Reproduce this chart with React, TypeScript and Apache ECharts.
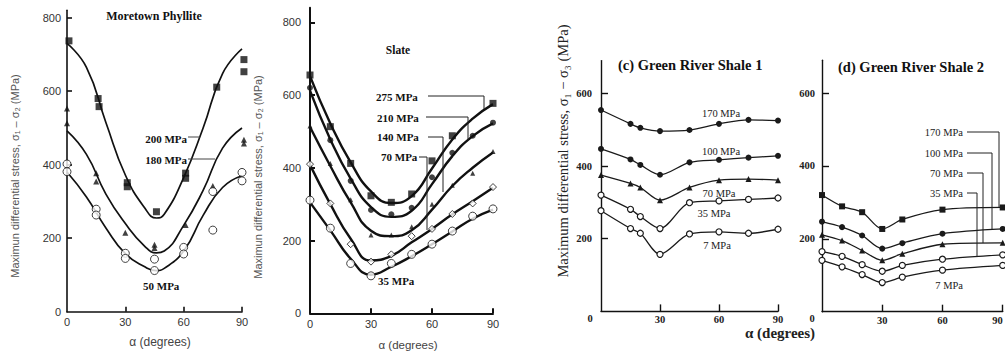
import React, { useEffect, useRef } from "react";
import * as echarts from "echarts";

// ---------- Panel 1: Moretown Phyllite ----------
const P1_CURVE_ALPHA = [0, 10, 20, 30, 40, 46, 50, 60, 70, 80, 90];
const P1_CURVE_200 = [730, 665, 515, 372, 282, 255, 265, 365, 500, 648, 715];
const P1_CURVE_180 = [492, 428, 320, 240, 178, 160, 165, 235, 330, 445, 500];
const P1_CURVE_50 = [380, 312, 228, 158, 122, 112, 118, 165, 262, 338, 370];
const P1_SQUARES = [[1, 737], [16, 580], [16.5, 558], [31, 351], [31, 340], [46, 272], [61, 377], [61, 363], [77, 611], [91, 686], [91, 653]];
const P1_TRIANGLES = [[0, 553], [0, 513], [15, 377], [15, 354], [30, 215], [45, 182], [45, 173], [61, 236], [75, 342], [91, 468], [91, 458]];
const P1_CIRCLES = [[0, 402], [0, 381], [15, 279], [15, 263], [30, 159], [30, 145], [45, 143], [45, 112], [60, 175], [60, 157], [75, 327], [75, 222], [90, 379], [90, 356]];

// ---------- Panel 2: Slate ----------
const P2_ALPHA = [0, 10, 20, 30, 40, 50, 60, 70, 80, 90];
const P2_CURVE_275 = [652, 522, 415, 335, 303, 322, 398, 478, 535, 575];
const P2_CURVE_210 = [612, 478, 370, 292, 265, 282, 355, 432, 487, 522];
const P2_CURVE_140 = [512, 405, 305, 227, 212, 228, 285, 350, 400, 442];
const P2_CURVE_70 = [408, 300, 205, 145, 158, 195, 232, 272, 308, 345];
const P2_CURVE_35 = [305, 228, 150, 106, 128, 157, 190, 225, 260, 285];
const P2_SQUARE_ALPHA = [0, 10, 20, 30, 40, 50, 60, 70, 90];
const P2_SQUARES = [655, 513, 412, 323, 305, 328, 419, 488, 577];
const P2_DOTS = [620, 476, 364, 284, 272, 290, 374, 441, 488, 524];
const P2_TRIANGLES = [515, 412, 312, 215, 215, 238, 300, 352, 385, 445];
const P2_DIAMONDS = [410, 302, 190, 142, 162, 212, 232, 273, 302, 347];
const P2_CIRCLES = [311, 234, 137, 103, 137, 162, 190, 226, 267, 287];

// ---------- Panel 3: Green River Shale 1 ----------
const P3_ALPHA = [0, 15, 20, 30, 45, 60, 75, 90];
const P3_170 = [554, 516, 505, 496, 499, 516, 527, 525];
const P3_100 = [447, 418, 403, 376, 410, 417, 423, 428];
const P3_70 = [375, 352, 341, 306, 341, 361, 364, 361];
const P3_35 = [320, 281, 261, 228, 299, 304, 308, 312];
const P3_7 = [277, 228, 215, 157, 213, 219, 215, 226];

// ---------- Panel 4: Green River Shale 2 ----------
const P4_ALPHA = [0, 10, 20, 30, 40, 60, 90];
const P4_170 = [320, 289, 273, 227, 253, 280, 286];
const P4_100 = [247, 232, 209, 173, 188, 214, 227];
const P4_70 = [211, 195, 168, 141, 159, 185, 189];
const P4_35 = [165, 152, 129, 111, 127, 144, 156];
const P4_7 = [141, 123, 102, 80, 95, 114, 127];

const X_TICKS = [0, 30, 60, 90];
const Y_TICKS_BIG = [0, 200, 400, 600, 800];
const Y_TICKS_SMALL = [200, 400, 600];

const SANS = "'Liberation Sans', Arial, sans-serif";
const SERIF = "'Liberation Serif', 'Times New Roman', serif";

const zip = (xs: number[], ys: number[]) => xs.map((x, i) => [x, ys[i]]);

function curve(grid: number, xs: number[], ys: number[], width: number) {
  return {
    type: "line",
    xAxisIndex: grid,
    yAxisIndex: grid,
    data: zip(xs, ys),
    smooth: 0.5,
    showSymbol: false,
    symbol: "none",
    clip: false,
    lineStyle: { color: "#111", width },
    z: 2,
  };
}

function marks(grid: number, data: number[][], symbol: string, size: number, open = false) {
  return {
    type: "scatter",
    xAxisIndex: grid,
    yAxisIndex: grid,
    data,
    symbol,
    symbolSize: size,
    clip: false,
    itemStyle: open
      ? { color: "#fff", borderColor: "#111", borderWidth: 1 }
      : { color: "#111", borderColor: "#111", borderWidth: 0 },
    z: 3,
  };
}

function markedLine(grid: number, xs: number[], ys: number[], symbol: string, size: number, open = false) {
  return {
    type: "line",
    xAxisIndex: grid,
    yAxisIndex: grid,
    data: zip(xs, ys),
    smooth: 0.3,
    symbol,
    symbolSize: size,
    showSymbol: true,
    clip: false,
    lineStyle: { color: "#1a1a1a", width: 1.3 },
    itemStyle: open
      ? { color: "#fff", borderColor: "#1a1a1a", borderWidth: 1.2 }
      : { color: "#1a1a1a", borderColor: "#1a1a1a", borderWidth: 0 },
    z: 3,
  };
}

function xAxis(grid: number, labelVals: number[], tickVals: number[], font: any, lineW: number, tickLen: number, margin: number, extra: any = {}) {
  return {
    type: "value",
    gridIndex: grid,
    min: 0,
    max: 90,
    interval: 30,
    splitLine: { show: false },
    axisLine: { show: true, onZero: false, lineStyle: { color: "#111", width: lineW } },
    axisTick: { show: true, inside: true, length: tickLen, customValues: tickVals, lineStyle: { color: "#111", width: lineW } },
    axisLabel: { show: true, customValues: labelVals, margin, ...font, ...extra },
  };
}

function yAxis(grid: number, max: number, labelVals: number[], tickVals: number[], font: any, lineW: number, tickLen: number, margin: number) {
  return {
    type: "value",
    gridIndex: grid,
    min: 0,
    max,
    interval: 200,
    splitLine: { show: false },
    axisLine: { show: true, onZero: false, lineStyle: { color: "#111", width: lineW } },
    axisTick: { show: true, inside: true, length: tickLen, customValues: tickVals, lineStyle: { color: "#111", width: lineW } },
    axisLabel: { show: true, customValues: labelVals, margin, ...font },
  };
}

function text(x: number, y: number, t: string, size: number, family: string, opts: any = {}) {
  const align = opts.align || "center";
  const valign = opts.valign || "middle";
  return {
    type: "text",
    x,
    y,
    rotation: opts.rotation || 0,
    z: 10,
    style: {
      text: t,
      fontSize: size,
      fontFamily: family,
      fontWeight: opts.bold ? "bold" : "normal",
      fill: opts.color || "#111",
      align,
      textAlign: align,
      verticalAlign: valign,
      textVerticalAlign: valign,
    },
  };
}

function leader(points: number[][], color = "#222") {
  return {
    type: "polyline",
    z: 9,
    shape: { points },
    style: { stroke: color, lineWidth: 1, fill: null },
  };
}

export default function App() {
  const ref = useRef<HTMLDivElement>(null);

  useEffect(() => {
    if (!ref.current) return;
    const chart = echarts.init(ref.current, undefined, { renderer: "svg" });

    const sansTick = { fontFamily: SANS, fontSize: 11, color: "#333" };
    const serifTick = { fontFamily: SERIF, fontSize: 10.5, color: "#222", fontWeight: "bold" };

    const option: any = {
      animation: false,
      backgroundColor: "#fff",
      grid: [
        { left: 67, top: 10.35, width: 175, height: 301.35, outerBoundsMode: "none", containLabel: false },
        { left: 310, top: 7.7, width: 183, height: 305.6, outerBoundsMode: "none", containLabel: false },
        { left: 601, top: 60.6, width: 177, height: 250.8, outerBoundsMode: "none", containLabel: false },
        { left: 822, top: 60.2, width: 180.7, height: 251.5, outerBoundsMode: "none", containLabel: false },
      ],
      xAxis: [
        xAxis(0, X_TICKS, [30, 60, 90], sansTick, 1.6, 5, 5),
        xAxis(1, X_TICKS, [30, 60, 90], sansTick, 2, 5, 5),
        xAxis(2, [30, 60, 90], [30, 60, 90], serifTick, 1.4, 7, 3),
        xAxis(3, [30, 60, 90], [30, 60, 90], serifTick, 1.4, 7, 3, { alignMaxLabel: "right" }),
      ],
      yAxis: [
        yAxis(0, 820, Y_TICKS_BIG, [200, 400, 600, 800], sansTick, 1.6, 5, 6),
        yAxis(1, 840, Y_TICKS_BIG, [200, 400, 600, 800], sansTick, 2, 5, 9),
        yAxis(2, 690, Y_TICKS_SMALL, Y_TICKS_SMALL, serifTick, 1.4, 7, 9),
        yAxis(3, 690, Y_TICKS_SMALL, Y_TICKS_SMALL, serifTick, 1.4, 7, 7),
      ],
      series: [
        // Panel 1
        curve(0, P1_CURVE_ALPHA, P1_CURVE_200, 1.7),
        curve(0, P1_CURVE_ALPHA, P1_CURVE_180, 1.7),
        curve(0, P1_CURVE_ALPHA, P1_CURVE_50, 1.7),
        marks(0, P1_SQUARES, "rect", 7),
        marks(0, P1_TRIANGLES, "triangle", 6),
        marks(0, P1_CIRCLES, "circle", 8, true),
        // Panel 2
        curve(1, P2_ALPHA, P2_CURVE_275, 2.4),
        curve(1, P2_ALPHA, P2_CURVE_210, 2.4),
        curve(1, P2_ALPHA, P2_CURVE_140, 2.4),
        curve(1, P2_ALPHA, P2_CURVE_70, 2.4),
        curve(1, P2_ALPHA, P2_CURVE_35, 2.4),
        marks(1, zip(P2_SQUARE_ALPHA, P2_SQUARES), "rect", 7),
        marks(1, zip(P2_ALPHA, P2_DOTS), "circle", 6),
        marks(1, zip(P2_ALPHA, P2_TRIANGLES), "triangle", 5),
        marks(1, zip(P2_ALPHA, P2_DIAMONDS), "diamond", 7, true),
        marks(1, zip(P2_ALPHA, P2_CIRCLES), "circle", 8, true),
        // Panel 3
        markedLine(2, P3_ALPHA, P3_170, "circle", 6),
        markedLine(2, P3_ALPHA, P3_100, "circle", 6),
        markedLine(2, P3_ALPHA, P3_70, "triangle", 6),
        markedLine(2, P3_ALPHA, P3_35, "circle", 6, true),
        markedLine(2, P3_ALPHA, P3_7, "circle", 6, true),
        // Panel 4
        markedLine(3, P4_ALPHA, P4_170, "rect", 6),
        markedLine(3, P4_ALPHA, P4_100, "circle", 6),
        markedLine(3, P4_ALPHA, P4_70, "triangle", 6),
        markedLine(3, P4_ALPHA, P4_35, "circle", 6, true),
        markedLine(3, P4_ALPHA, P4_7, "circle", 6, true),
      ],
      graphic: [
        // Panel 1 texts
        text(154, 16, "Moretown Phyllite", 12, SERIF, { bold: true }),
        text(187, 139, "200 MPa", 11, SERIF, { bold: true, align: "right" }),
        text(187, 160, "180 MPa", 11, SERIF, { bold: true, align: "right" }),
        text(143, 286, "50 MPa", 11, SERIF, { bold: true, align: "left" }),
        leader([[188, 137], [200, 137]], "#444"),
        leader([[188, 159], [215, 159]], "#444"),
        text(15, 176, "Maximun differential stress, σ₁ – σ₂ (MPa)", 11, SANS, { rotation: Math.PI / 2, color: "#555" }),
        text(160, 342, "α (degrees)", 12, SANS, { color: "#444" }),
        // Panel 2 texts
        text(398, 50, "Slate", 11.5, SERIF, { bold: true }),
        text(376, 97, "275 MPa", 11, SERIF, { bold: true, align: "left" }),
        text(377, 118, "210 MPa", 11, SERIF, { bold: true, align: "left" }),
        text(377, 137, "140 MPa", 11, SERIF, { bold: true, align: "left" }),
        text(381, 157, "70 MPa", 11, SERIF, { bold: true, align: "left" }),
        text(378, 281, "35 MPa", 11, SERIF, { bold: true, align: "left" }),
        leader([[428, 96], [484, 96], [484, 109]]),
        leader([[426, 117], [468, 117], [468, 140]]),
        leader([[428, 137], [443, 137], [443, 192]]),
        leader([[419, 157], [427, 157], [427, 230]]),
        text(258, 177, "Maximun differential stress, σ₁ – σ₂ (MPa)", 11, SANS, { rotation: Math.PI / 2, color: "#555" }),
        text(408, 345, "α (degrees)", 11.5, SANS, { color: "#444" }),
        // Panel 3 texts
        text(618, 65, "(c) Green River Shale 1", 14.5, SERIF, { bold: true, align: "left" }),
        text(721, 113, "170 MPa", 10.5, SERIF, { color: "#222" }),
        text(721, 151, "100 MPa", 10.5, SERIF, { color: "#222" }),
        text(719, 193, "70 MPa", 10.5, SERIF, { color: "#222" }),
        text(714, 213, "35 MPa", 10.5, SERIF, { color: "#222" }),
        text(717, 245, "7 MPa", 10.5, SERIF, { color: "#222" }),
        text(590, 318, "0", 10.5, SERIF, { bold: true, color: "#222" }),
        text(563, 151, "Maximum differential stress, σ₁ − σ₃ (MPa)", 14.5, SERIF, { rotation: Math.PI / 2, color: "#222" }),
        text(780, 333, "α (degrees)", 15, SERIF, { bold: true, color: "#222" }),
        // Panel 4 texts
        text(838, 67, "(d) Green River Shale 2", 14.5, SERIF, { bold: true, align: "left" }),
        text(963, 132, "170 MPa", 10.5, SERIF, { align: "right", color: "#222" }),
        text(963, 153, "100 MPa", 10.5, SERIF, { align: "right", color: "#222" }),
        text(963, 173, "70 MPa", 10.5, SERIF, { align: "right", color: "#222" }),
        text(963, 193, "35 MPa", 10.5, SERIF, { align: "right", color: "#222" }),
        text(963, 285, "7 MPa", 10.5, SERIF, { align: "right", color: "#222" }),
        leader([[967, 132], [999, 132], [999, 207]]),
        leader([[967, 153], [992, 153], [992, 229]]),
        leader([[967, 173], [983, 173], [983, 243]]),
        leader([[967, 193], [977, 193], [977, 257]]),
        text(812, 318, "0", 10.5, SERIF, { bold: true, color: "#222" }),
      ],
    };

    chart.setOption(option);
    return () => chart.dispose();
  }, []);

  return (
    <div
      ref={ref}
      style={{ position: "fixed", left: 0, top: 0, width: 1005, height: 353, background: "#fff" }}
    />
  );
}
